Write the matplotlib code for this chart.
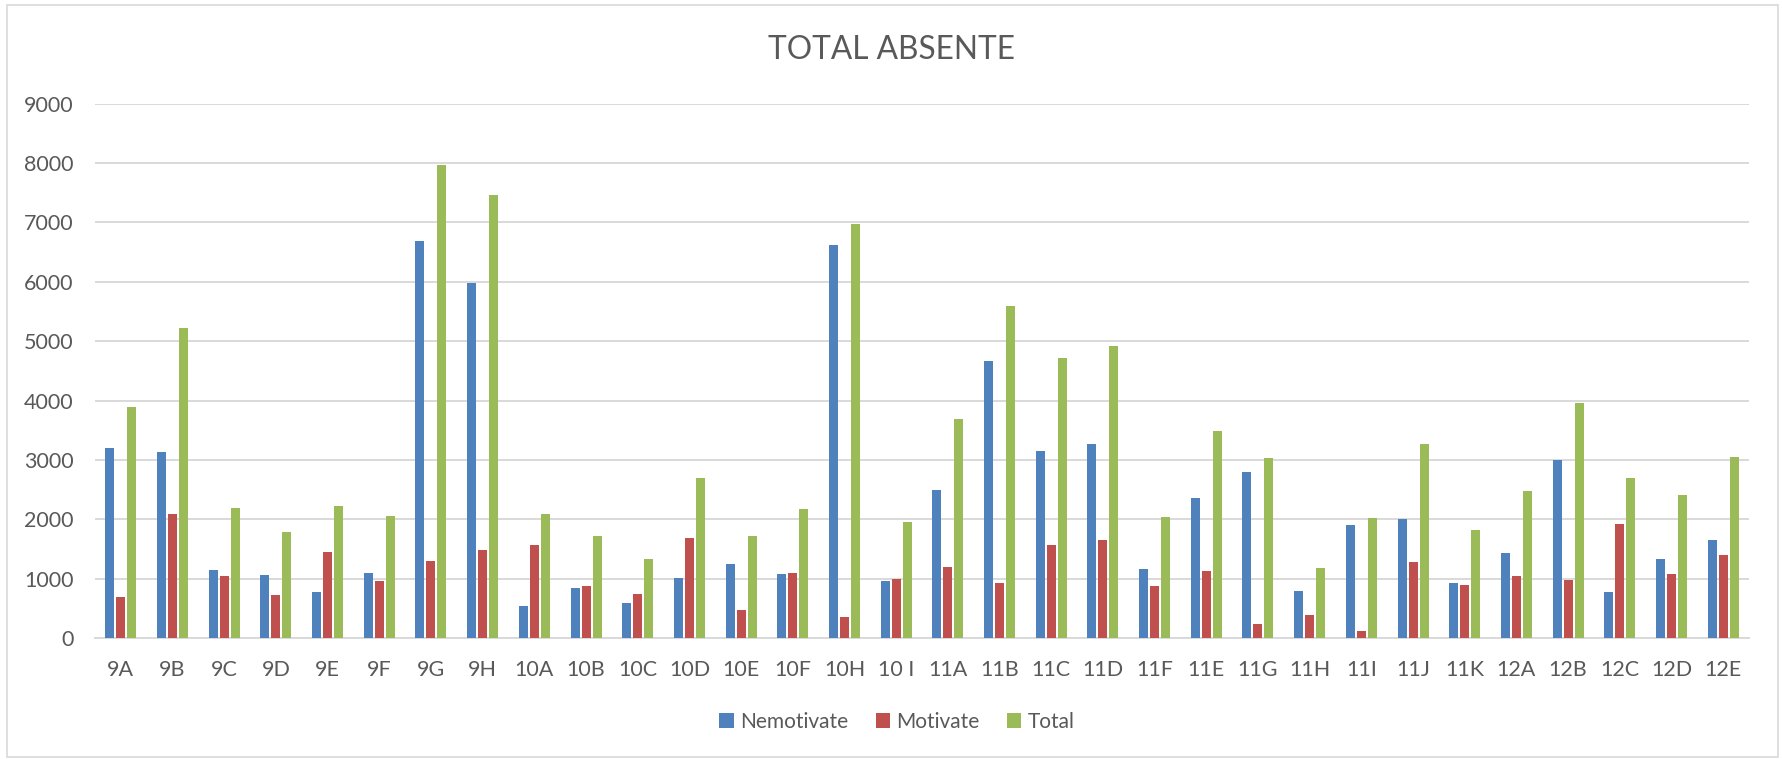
import matplotlib
matplotlib.use("Agg")
import matplotlib.pyplot as plt
from matplotlib.patches import Rectangle, Patch
import numpy as np

categories = ["9A", "9B", "9C", "9D", "9E", "9F", "9G", "9H",
              "10A", "10B", "10C", "10D", "10E", "10F", "10H", "10 I",
              "11A", "11B", "11C", "11D", "11F", "11E", "11G", "11H", "11I", "11J", "11K",
              "12A", "12B", "12C", "12D", "12E"]
nemotivate = [3200, 3133, 1141, 1057, 774, 1102, 6679, 5976,
              535, 838, 587, 1019, 1251, 1070, 6621, 961,
              2495, 4668, 3146, 3275, 1160, 2360, 2792, 793, 1902, 1999, 928,
              1425, 2991, 780, 1328, 1657]
motivate = [683, 2082, 1051, 722, 1444, 961, 1296, 1483,
            1560, 877, 741, 1683, 471, 1102, 355, 993,
            1199, 928, 1573, 1650, 883, 1135, 232, 387, 116, 1277, 896,
            1051, 973, 1921, 1077, 1399]
total = [3883, 5215, 2192, 1779, 2218, 2063, 7975, 7459,
         2095, 1715, 1328, 2702, 1722, 2172, 6976, 1954,
         3694, 5596, 4719, 4925, 2043, 3495, 3024, 1180, 2018, 3276, 1824,
         2476, 3964, 2701, 2405, 3056]
series_names = ["Nemotivate", "Motivate", "Total"]
yticks = [0, 1000, 2000, 3000, 4000, 5000, 6000, 7000, 8000, 9000]

colors = ["#4F81BD", "#C0504D", "#9BBB59"]
text_color = "#595959"
grid_color = "#D9D9D9"
font = "Lato"

W, H = 1783, 759
fig = plt.figure(figsize=(W / 100, H / 100), dpi=100)
fig.patch.set_facecolor("white")

# outer chart border
fig.patches.append(Rectangle((7 / W, 1 - 757 / H), (1778.5 - 7) / W, (757 - 5) / H,
                             transform=fig.transFigure, fill=False,
                             edgecolor=grid_color, linewidth=1.2))

left, right, top, bottom = 95, 1749, 103.7, 638
ax = fig.add_axes([left / W, 1 - bottom / H, (right - left) / W, (bottom - top) / H])
ax.set_facecolor("white")

x = np.arange(len(categories))
bw = 0.174
off = 0.213
for i, (vals, c) in enumerate(zip([nemotivate, motivate, total], colors)):
    ax.bar(x + (i - 1) * off, vals, width=bw, color=c, zorder=3, linewidth=0)

ax.set_xlim(-0.5, len(categories) - 0.5)
ax.set_ylim(0, 9000)
ax.set_yticks(yticks)
ax.set_yticklabels([str(v) for v in yticks])
ax.set_xticks(x)
ax.set_xticklabels(categories)
ax.grid(axis="y", color=grid_color, linewidth=1.4, zorder=0)
ax.set_axisbelow(True)
for s in ["top", "right", "left"]:
    ax.spines[s].set_visible(False)
ax.spines["bottom"].set_color(grid_color)
ax.spines["bottom"].set_linewidth(1.4)
ax.tick_params(axis="both", length=0, colors=text_color, labelsize=15.5)
ax.tick_params(axis="y", pad=15.5)
ax.tick_params(axis="x", pad=16)
for lab in ax.get_xticklabels() + ax.get_yticklabels():
    lab.set_fontfamily(font)
    lab.set_color(text_color)

fig.text(0.5, 1 - 50 / H, "TOTAL ABSENTE", ha="center", va="center",
         fontsize=22.8, color=text_color, fontfamily=font)

handles = [Patch(facecolor=c, edgecolor="none") for c in colors]
leg = fig.legend(handles, series_names, loc="center", ncol=3,
                 bbox_to_anchor=(897 / W, 1 - 722 / H), frameon=False,
                 prop={"family": font, "size": 15},
                 handlelength=0.7, handleheight=0.7, handletextpad=0.3,
                 columnspacing=1.3, borderpad=0)
for t in leg.get_texts():
    t.set_color(text_color)

fig.savefig("out.png", dpi=100, facecolor="white")
